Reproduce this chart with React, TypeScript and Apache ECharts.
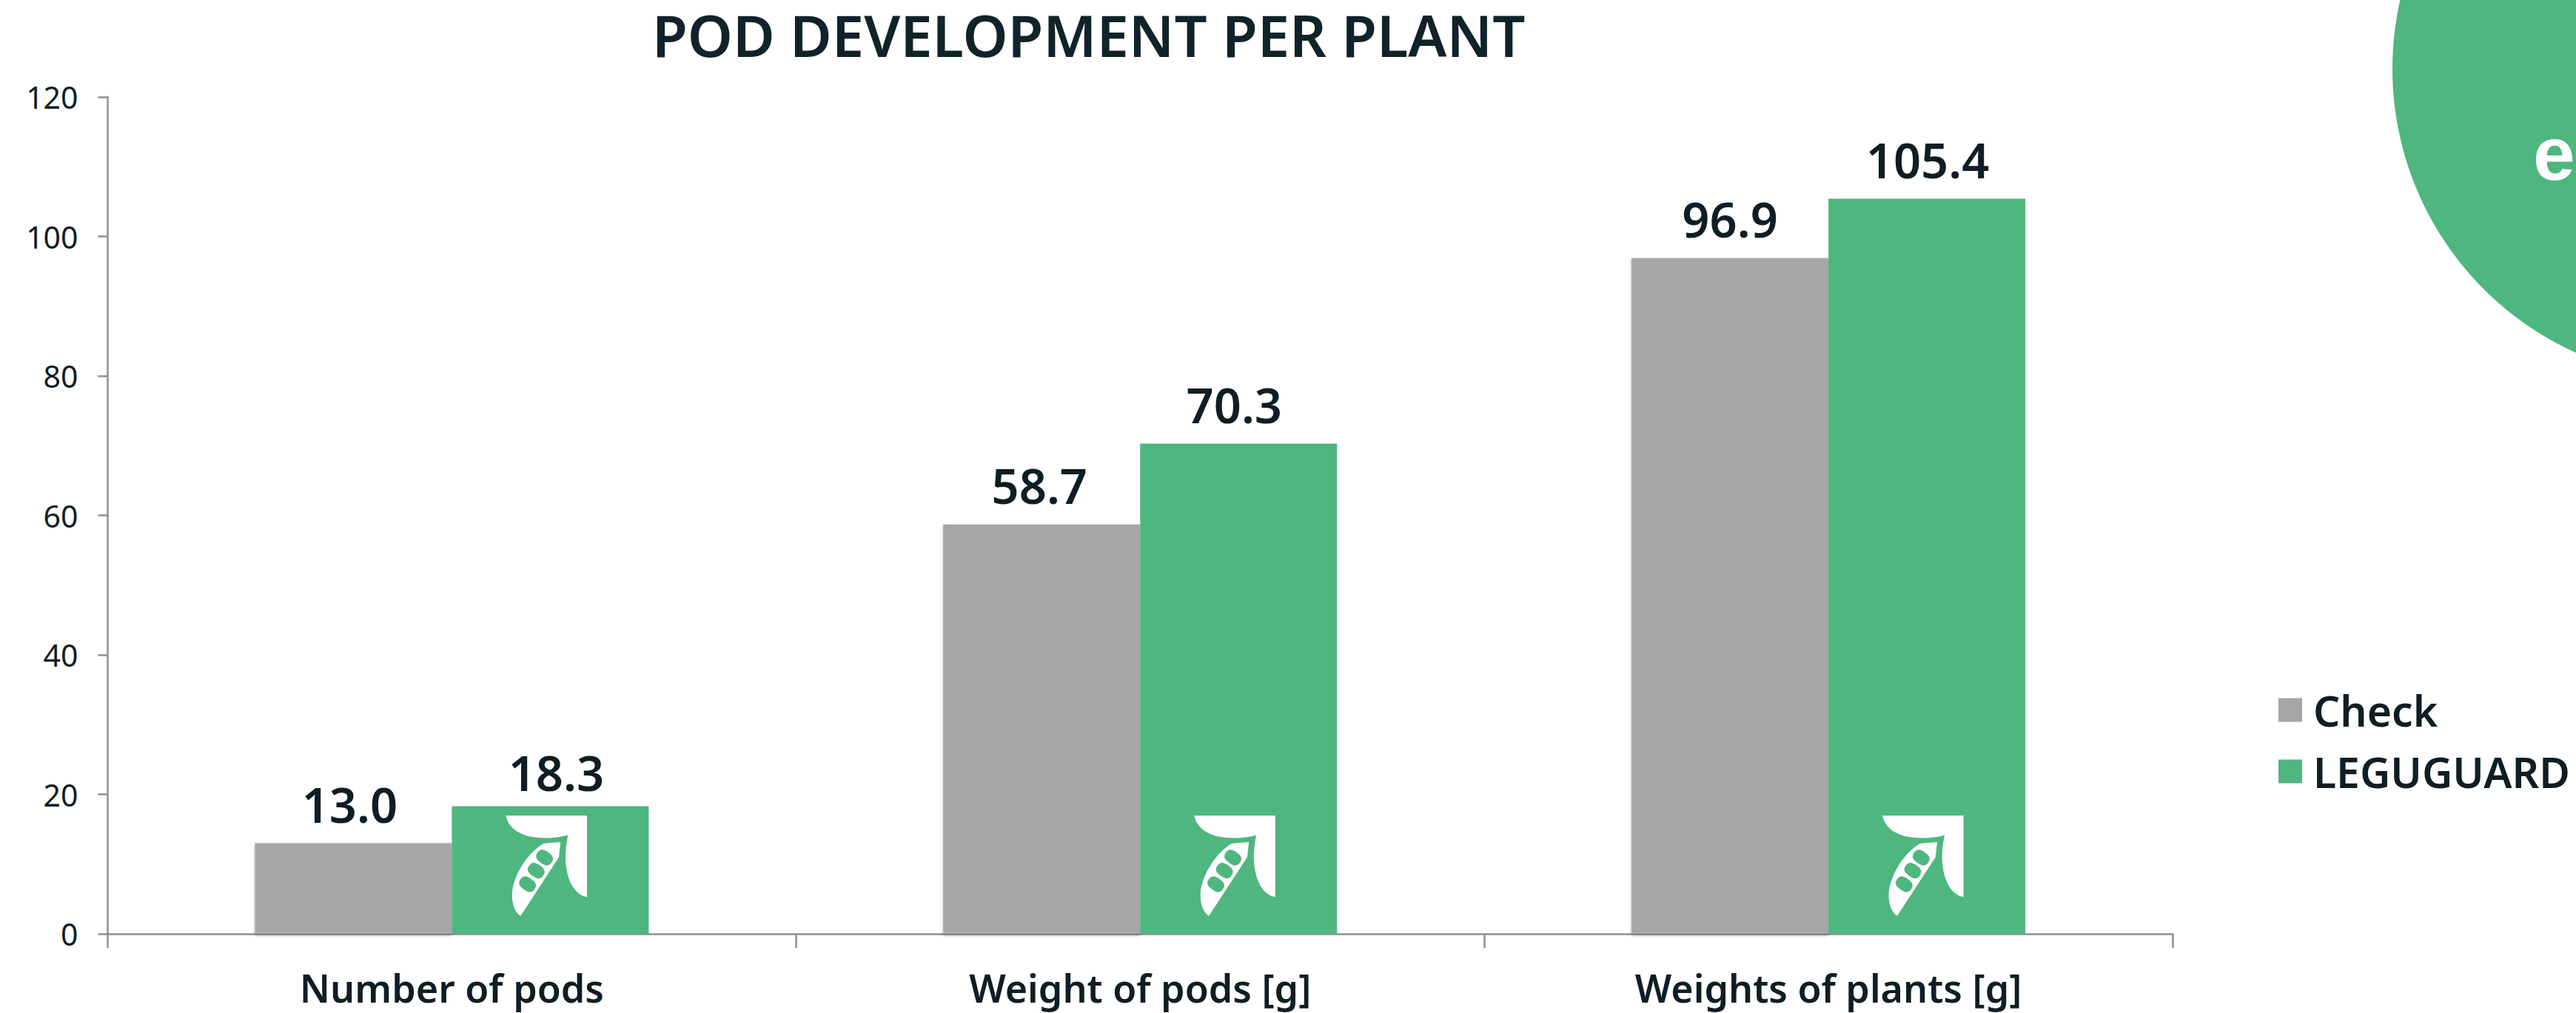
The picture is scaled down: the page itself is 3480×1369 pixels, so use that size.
import React, { useEffect, useRef } from "react";
import * as echarts from "echarts";

const categories = ["Number of pods", "Weight of pods [g]", "Weights of plants [g]"];
const checkValues = [13.0, 58.7, 96.9];
const leguguardValues = [18.3, 70.3, 105.4];
const yTicks = [0, 20, 40, 60, 80, 100, 120];

const GREEN = "#4EB67F";
const GRAY = "#A6A6A6";
const INK = "#0F1D24";
const AXIS = "#8F8F8F";
const FONT = "'Noto Sans', sans-serif";

const checkLabelOffsets = [[-5, 0], [-3, 0], [0, 0]];
const leguguardLabelOffsets = [[8, 7], [-6, 0], [1, 0]];

const LEAF = "M0 1 L329 1 L329 330 C270 325 220 225 252 80 C150 105 20 95 0 1 Z";
const POD = "M60 408 C25 385 20 325 30 285 C50 205 110 135 155 113 L222 108 L215 170 Z";

// Rounded seed holes: a superellipse-like closed curve, long axis tilted down to the right.
function seed(cx: number, cy: number) {
  const a = 35;
  const b = 26;
  const k = 0.72;
  const t = (36 * Math.PI) / 180;
  const p = (u: number, v: number) =>
    `${(cx + u * Math.cos(t) - v * Math.sin(t)).toFixed(1)} ${(cy + u * Math.sin(t) + v * Math.cos(t)).toFixed(1)}`;
  return (
    `M${p(a, 0)} C${p(a, k * b)} ${p(k * a, b)} ${p(0, b)} ` +
    `C${p(-k * a, b)} ${p(-a, k * b)} ${p(-a, 0)} ` +
    `C${p(-a, -k * b)} ${p(-k * a, -b)} ${p(0, -b)} ` +
    `C${p(k * a, -b)} ${p(a, -k * b)} ${p(a, 0)} Z`
  );
}
const HOLES = [seed(157, 171), seed(123, 224), seed(88, 279)].join(" ");

echarts.graphic.registerShape("podLeaf", echarts.graphic.extendPath(LEAF, {}) as any);
echarts.graphic.registerShape("podBody", echarts.graphic.extendPath(POD, {}) as any);
echarts.graphic.registerShape("podHoles", echarts.graphic.extendPath(HOLES, {}) as any);

function renderIcon(_: any, api: any) {
  const [cx, y0] = api.coord([api.value(0), 0]);
  const s = 1 / 3;
  const x = cx + 73;
  const y = y0 - 160;
  const part = (type: string, fill: string) => ({
    type,
    x,
    y,
    scaleX: s,
    scaleY: s,
    style: { fill },
    silent: true,
  });
  return {
    type: "group",
    children: [part("podLeaf", "#fff"), part("podBody", "#fff"), part("podHoles", GREEN)],
  };
}

export default function App() {
  const ref = useRef<HTMLDivElement>(null);
  useEffect(() => {
    const chart = echarts.init(ref.current!, null, { renderer: "svg" });
    const valueLabel = {
      show: true,
      position: "top" as const,
      distance: 20,
      color: INK,
      fontFamily: FONT,
      fontWeight: 600,
      fontSize: 65,
      formatter: (p: any) => Number(p.value).toFixed(1),
    };
    const withOffsets = (values: number[], offsets: number[][]) =>
      values.map((value, i) => ({ value, label: { offset: offsets[i] } }));
    chart.setOption({
      animation: false,
      backgroundColor: "#fff",
      title: {
        text: "POD DEVELOPMENT PER PLANT",
        left: 881,
        top: 8,
        padding: 0,
        textStyle: { color: "#10232A", fontFamily: FONT, fontWeight: 600, fontSize: 77.7 },
      },
      legend: {
        orient: "vertical",
        left: 3078,
        top: 931,
        padding: 0,
        itemGap: 26,
        itemWidth: 32,
        itemHeight: 32,
        icon: "rect",
        textStyle: {
          color: INK,
          fontFamily: FONT,
          fontWeight: 600,
          fontSize: 57,
          padding: [0, 0, 0, 10],
        },
        data: ["Check", "LEGUGUARD"],
      },
      grid: { left: 145.5, width: 2789.5, top: 131, height: 1131, containLabel: false },
      xAxis: {
        type: "category",
        data: categories,
        axisLine: { lineStyle: { color: AXIS, width: 2.5 } },
        axisTick: { show: true, length: 19, lineStyle: { color: AXIS, width: 2.5 } },
        axisLabel: {
          color: INK,
          fontFamily: FONT,
          fontWeight: 600,
          fontSize: 52,
          lineHeight: 52,
          margin: 46,
        },
      },
      yAxis: {
        type: "value",
        min: yTicks[0],
        max: yTicks[yTicks.length - 1],
        interval: 20,
        splitLine: { show: false },
        axisLine: { show: true, lineStyle: { color: AXIS, width: 2.5 } },
        axisTick: { show: true, length: 13, lineStyle: { color: AXIS, width: 2.5 } },
        axisLabel: { color: INK, fontFamily: FONT, fontSize: 41, margin: 40 },
      },
      series: [
        {
          name: "Check",
          type: "bar",
          data: withOffsets(checkValues, checkLabelOffsets),
          barWidth: 266,
          barGap: 0,
          itemStyle: { color: GRAY, shadowBlur: 4, shadowColor: "rgba(0,0,0,0.3)", shadowOffsetY: 2 },
          label: valueLabel,
        },
        {
          name: "LEGUGUARD",
          type: "bar",
          data: withOffsets(leguguardValues, leguguardLabelOffsets),
          barWidth: 266,
          itemStyle: { color: GREEN },
          label: valueLabel,
        },
        {
          type: "custom",
          data: categories.map((_, i) => [i]),
          encode: { x: 0 },
          renderItem: renderIcon,
          silent: true,
          z: 5,
          tooltip: { show: false },
        },
      ],
      graphic: [
        {
          type: "circle",
          z: 0,
          shape: { cx: 3653, cy: 93, r: 421 },
          style: { fill: GREEN },
          silent: true,
        },
        {
          type: "text",
          z: 1,
          x: 3422,
          y: 157,
          style: {
            text: "ef",
            fill: "#fff",
            fontFamily: "'Liberation Sans', sans-serif",
            fontWeight: 700,
            fontSize: 102,
            verticalAlign: "top",
          },
          silent: true,
        },
      ],
    });
    return () => chart.dispose();
  }, []);
  return (
    <div
      ref={ref}
      style={{ position: "absolute", left: 0, top: 0, width: 3480, height: 1369, overflow: "hidden" }}
    />
  );
}
